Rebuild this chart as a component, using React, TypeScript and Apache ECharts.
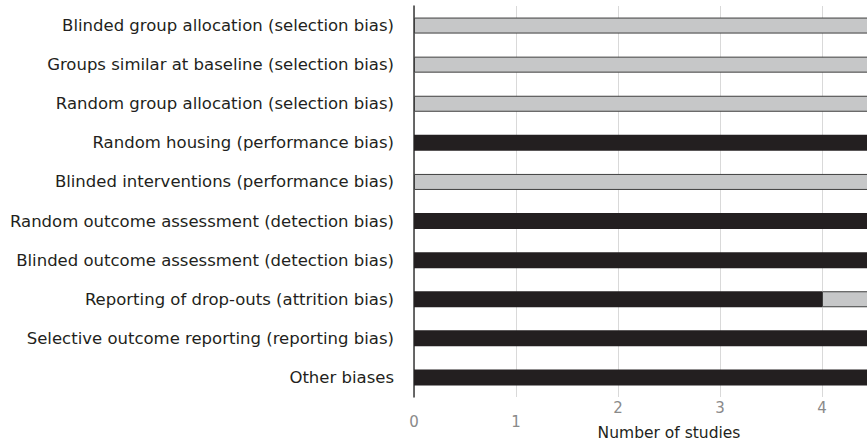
import React, { useEffect, useRef } from "react";
import * as echarts from "echarts";

const categories = [
  "Blinded group allocation (selection bias)",
  "Groups similar at baseline (selection bias)",
  "Random group allocation (selection bias)",
  "Random housing (performance bias)",
  "Blinded interventions (performance bias)",
  "Random outcome assessment (detection bias)",
  "Blinded outcome assessment (detection bias)",
  "Reporting of drop-outs (attrition bias)",
  "Selective outcome reporting (reporting bias)",
  "Other biases",
];
const blackValues = [0, 0, 0, 5, 0, 5, 5, 4, 5, 5];
const grayValues = [5, 5, 5, 0, 5, 0, 0, 1, 0, 0];
const lowTickLabels = [0, 1];

export default function App() {
  const ref = useRef<HTMLDivElement>(null);
  useEffect(() => {
    const chart = echarts.init(ref.current!, null, { renderer: "svg" });
    chart.setOption({
      animation: false,
      grid: {
        left: 414,
        top: 6,
        height: 391,
        width: 510,
        containLabel: false,
        outerBoundsMode: "none",
      },
      xAxis: {
        type: "value",
        min: 0,
        max: 5,
        interval: 1,
        name: "Number of studies",
        nameLocation: "middle",
        nameGap: 28,
        nameMoveOverlap: false,
        nameTextStyle: { fontFamily: "DejaVu Sans", fontSize: 15.5, color: "#231f20" },
        axisLine: { show: false },
        axisTick: { show: false },
        splitLine: { show: true, lineStyle: { color: "#d9d9d9", width: 1 } },
        axisLabel: {
          margin: 3,
          showMaxLabel: false,
          fontFamily: "DejaVu Sans",
          fontSize: 15,
          color: "#8a8a8a",
          formatter: (v: number) => (lowTickLabels.includes(v) ? "{lo|" + v + "}" : "{hi|" + v + "}"),
          rich: {
            lo: { fontFamily: "DejaVu Sans", fontSize: 15, color: "#8a8a8a", padding: [14, 0, 0, 0] },
            hi: { fontFamily: "DejaVu Sans", fontSize: 15, color: "#8a8a8a" },
          },
        },
      },
      yAxis: {
        type: "category",
        data: categories,
        inverse: true,
        axisLine: { show: true, lineStyle: { color: "#3a3a3a", width: 1.5 } },
        axisTick: { show: false },
        axisLabel: {
          margin: 20,
          fontFamily: "DejaVu Sans",
          fontSize: 16.5,
          color: "#231f20",
        },
      },
      series: [
        {
          type: "bar",
          stack: "total",
          data: blackValues,
          barWidth: 16,
          itemStyle: { color: "#231f20" },
        },
        {
          type: "bar",
          stack: "total",
          data: grayValues,
          barWidth: 16,
          itemStyle: { color: "#c6c7c8", borderColor: "#3f3f3f", borderWidth: 1 },
        },
      ],
    });
    return () => chart.dispose();
  }, []);
  return (
    <div
      ref={ref}
      style={{ position: "fixed", left: 0, top: 0, width: 867, height: 445, background: "#fff" }}
    />
  );
}
